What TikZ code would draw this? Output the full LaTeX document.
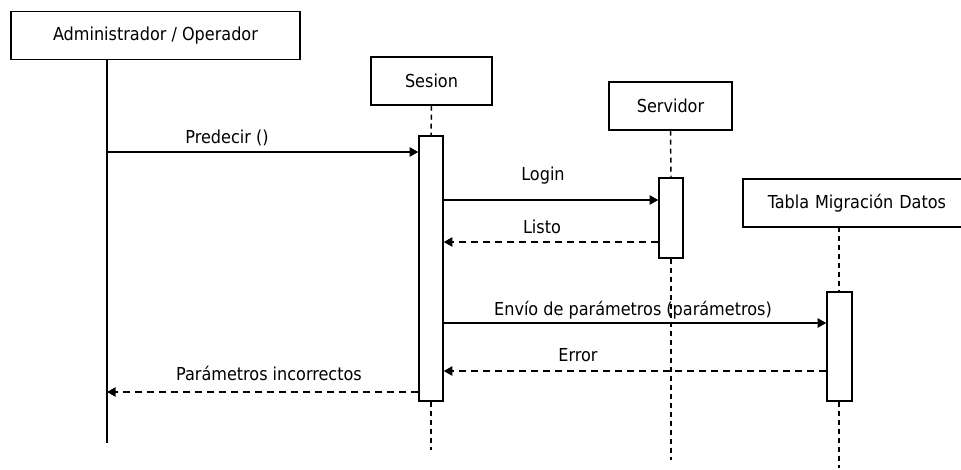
\documentclass[tikz,border=0pt]{standalone}
\usepackage{fontspec}
\setmainfont{DejaVu Sans Condensed}
\usetikzlibrary{arrows.meta}
\begin{document}
\begin{tikzpicture}[x=0.75pt,y=-0.75pt,
  every node/.style={font=\fontsize{13.4pt}{15pt}\selectfont},
  objbox/.style={draw,line width=1.1pt,inner sep=0pt,minimum height=36pt},
  actbox/.style={draw,line width=1.1pt,inner sep=0pt,fill=white},
  life/.style={line width=1.1pt,dash pattern=on 3.75pt off 3pt},
  msg/.style={line width=1.2pt,-{Triangle[length=6.5pt,width=7pt]}},
  reply/.style={msg,dash pattern=on 5.25pt off 3.75pt},
  lbl/.style={inner sep=0pt,anchor=center}]
\useasboundingbox (0,0) rectangle (961,469);
% objects
\node[objbox,minimum width=216.75pt] (admin) at (155.5,35.5) {Administrador / Operador};
\node[objbox,minimum width=90.75pt] (sesion) at (431.5,81) {Sesion};
\node[objbox,minimum width=92.25pt] (servidor) at (670.5,106) {Servidor};
\node[objbox,minimum width=171pt,text width=160pt,align=center] (tabla) at (857,203) {Tabla Migración Datos};
% lifeline end points
\coordinate (adminTop) at (107,59);
\coordinate (adminEnd) at (107,443);
\coordinate (sesEnd) at (431,450);
\coordinate (servEnd) at (671,460);
\coordinate (tabTop) at (839,227);
\coordinate (tabEnd) at (839,468);
% activations
\node[actbox,minimum width=18pt,minimum height=198.75pt] (sesact) at (431,268.5) {};
\node[actbox,minimum width=18pt,minimum height=60pt] (servact) at (671,218) {};
\node[actbox,minimum width=18.75pt,minimum height=81.75pt] (tabact) at (839.5,346.5) {};
% lifelines
\draw[line width=1.1pt] (adminTop) -- (adminEnd);
\draw[life] (sesion.south) -- (sesact.north);
\draw[life] (sesact.south) -- (sesEnd);
\draw[life] (servidor.south) -- (servact.north);
\draw[life] (servact.south) -- (servEnd);
\draw[life] (tabTop) -- (tabact.north -| tabTop);
\draw[life] (tabact.south -| tabEnd) -- (tabEnd);
% message anchor points
\coordinate (m1a) at (107,152);
\coordinate (m6b) at (107,392);
% messages
\draw[msg] (m1a) -- (m1a -| sesact.west);
\draw[msg] (sesact.east |- 0,200) -- (servact.west |- 0,200);
\draw[reply] (servact.west |- 0,242) -- (sesact.east |- 0,242);
\draw[msg] (sesact.east |- 0,323) -- (tabact.west |- 0,323);
\draw[reply] (tabact.west |- 0,371) -- (sesact.east |- 0,371);
\draw[reply] (m6b -| sesact.west) -- (m6b);
% labels
\node[lbl] (l1) at (227,138) {Predecir ()};
\node[lbl] (l2) at (543,176) {Login};
\node[lbl] (l3) at (542,227) {Listo};
\node[lbl] (l4) at (633,310) {Envío de parámetros (parámetros)};
\node[lbl] (l5) at (578,355) {Error};
\node[lbl] (l6) at (269,373) {Parámetros incorrectos};
\end{tikzpicture}
\end{document}
